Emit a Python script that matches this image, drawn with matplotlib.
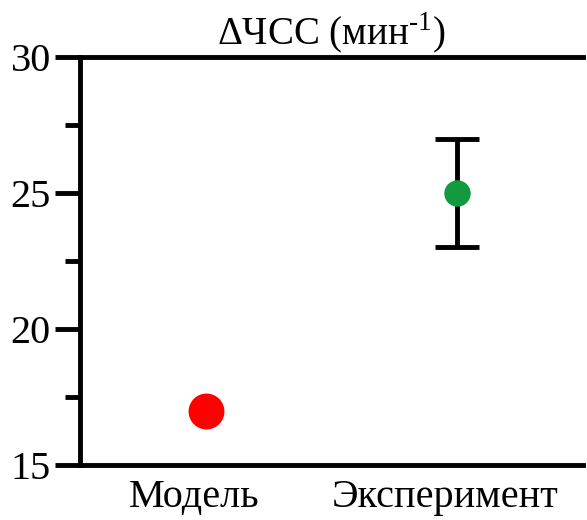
import matplotlib
matplotlib.use("Agg")
import matplotlib.pyplot as plt
import matplotlib.transforms as mtransforms

# data
categories = ["Модель", "Эксперимент"]
values = [17, 25]
errors = [0, 2]
colors = ["#ff0000", "#139a3e"]
marker_sizes = [34, 25]

plt.rcParams["font.family"] = ["Liberation Serif", "DejaVu Serif"]
plt.rcParams["mathtext.fontset"] = "custom"
plt.rcParams["mathtext.rm"] = "Liberation Serif"

fig = plt.figure(figsize=(5.87, 5.2), dpi=100, facecolor="white")
ax = fig.add_axes([80 / 587, 1 - 465 / 520, 503 / 587, 408 / 520])

xs = list(range(len(categories)))
for x, v, e, c, ms in zip(xs, values, errors, colors, marker_sizes):
    if e > 0:
        ax.errorbar(x, v, yerr=e, fmt="none", ecolor="black", elinewidth=3.5,
                    capsize=16, capthick=3.5, zorder=2)
    ax.plot(x, v, "o", color=c, markersize=ms * 0.76, markeredgewidth=0, zorder=3)

ax.set_xlim(-0.5, 1.5)
ax.set_ylim(15, 30)
ax.set_xticks(xs)
ax.set_xticklabels(categories, fontsize=29)
ax.set_yticks([15, 20, 25, 30])
ax.set_yticks([17.5, 22.5, 27.5], minor=True)
ax.tick_params(axis="y", which="major", direction="out", length=18, width=3.5,
               labelsize=29, pad=3)
ax.tick_params(axis="y", which="minor", direction="out", length=11, width=3.5)
ax.tick_params(axis="x", length=0, pad=10)

# category labels sit a little left of the markers in the original
shift = mtransforms.ScaledTranslation(-12 / 100, 0, fig.dpi_scale_trans)
for lab in ax.get_xticklabels():
    lab.set_transform(lab.get_transform() + shift)

for side in ["left", "top", "bottom"]:
    ax.spines[side].set_linewidth(3.5)
ax.spines["right"].set_visible(False)

ax.set_title("ΔЧСС (мин$^{\\mathregular{‐1}}$)", fontsize=28, pad=8)

fig.savefig("out.png", dpi=100, facecolor="white")
